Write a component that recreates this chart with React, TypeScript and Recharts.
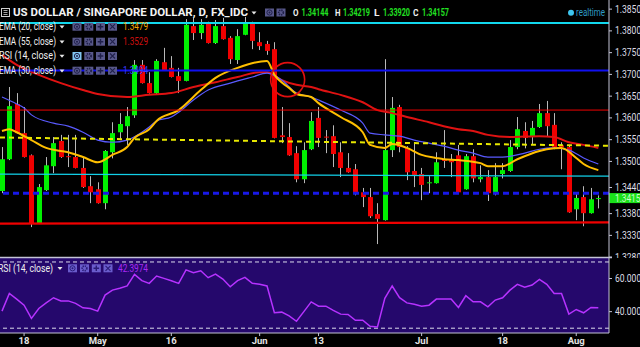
import React from 'react';
import { ComposedChart, Bar, Line, XAxis, YAxis, ReferenceLine, ReferenceDot } from 'recharts';

// USD/SGD daily, Apr 13 - Aug 4
const dates = [
  'Apr 13', 'Apr 14', 'Apr 15', 'Apr 18', 'Apr 19', 'Apr 20', 'Apr 21', 'Apr 22', 'Apr 25', 'Apr 26', 'Apr 27', 'Apr 28', 'Apr 29',
  'May 2', 'May 3', 'May 4', 'May 5', 'May 6', 'May 9', 'May 10', 'May 11', 'May 12', 'May 13', 'May 16', 'May 17', 'May 18',
  'May 19', 'May 20', 'May 23', 'May 24', 'May 25', 'May 26', 'May 27', 'May 30', 'May 31',
  'Jun 1', 'Jun 2', 'Jun 3', 'Jun 6', 'Jun 7', 'Jun 8', 'Jun 9', 'Jun 10', 'Jun 13', 'Jun 14', 'Jun 15', 'Jun 16', 'Jun 17',
  'Jun 20', 'Jun 21', 'Jun 22', 'Jun 23', 'Jun 24', 'Jun 27', 'Jun 28', 'Jun 29', 'Jun 30',
  'Jul 1', 'Jul 4', 'Jul 5', 'Jul 6', 'Jul 7', 'Jul 8', 'Jul 11', 'Jul 12', 'Jul 13', 'Jul 14', 'Jul 15', 'Jul 18', 'Jul 19',
  'Jul 20', 'Jul 21', 'Jul 22', 'Jul 25', 'Jul 26', 'Jul 27', 'Jul 28', 'Jul 29',
  'Aug 1', 'Aug 2', 'Aug 3', 'Aug 4',
];

const opens = [
  1.3432, 1.3505, 1.3632, 1.3565, 1.3514, 1.3358, 1.3434, 1.3489, 1.3547, 1.3512,
  1.3510, 1.3485, 1.3443, 1.3436, 1.3404, 1.3521, 1.3567, 1.3581, 1.3606, 1.3722,
  1.3680, 1.3657, 1.3728, 1.3715, 1.3696, 1.3685, 1.3811, 1.3795, 1.3816, 1.3772,
  1.3811, 1.3784, 1.3733, 1.3791, 1.3818, 1.3774, 1.3770, 1.3758, 1.3560, 1.3556,
  1.3519, 1.3459, 1.3528, 1.3600, 1.3557, 1.3558, 1.3521, 1.3485, 1.3482, 1.3429,
  1.3418, 1.3379, 1.3365, 1.3526, 1.3625, 1.3530, 1.3478, 1.3471, 1.3450, 1.3450,
  1.3505, 1.3503, 1.3514, 1.3436, 1.3512, 1.3459, 1.3464, 1.3427, 1.3471, 1.3478,
  1.3533, 1.3570, 1.3556, 1.3579, 1.3611, 1.3584, 1.3537, 1.3533, 1.3390, 1.3418,
  1.3381, 1.34144,
];
const highs = [
  1.3533, 1.3671, 1.3657, 1.3625, 1.3516, 1.3448, 1.3510, 1.3556, 1.3561, 1.3561,
  1.3561, 1.3510, 1.3466, 1.3452, 1.3526, 1.3590, 1.3611, 1.3625, 1.3733, 1.3733,
  1.3705, 1.3735, 1.3761, 1.3742, 1.3715, 1.3827, 1.3830, 1.3827, 1.3821, 1.3825,
  1.3830, 1.3788, 1.3804, 1.3832, 1.3821, 1.3797, 1.3777, 1.3774, 1.3625, 1.3588,
  1.3535, 1.3544, 1.3613, 1.3625, 1.3572, 1.3583, 1.3544, 1.3519, 1.3494, 1.3439,
  1.3439, 1.3404, 1.3735, 1.3648, 1.3630, 1.3535, 1.3544, 1.3485, 1.3466, 1.3521,
  1.3572, 1.3517, 1.3538, 1.3517, 1.3528, 1.3491, 1.3480, 1.3496, 1.3496, 1.3549,
  1.3602, 1.3590, 1.3593, 1.3632, 1.3639, 1.3611, 1.3544, 1.3538, 1.3427, 1.3443,
  1.3439, 1.34219,
];
const lows = [
  1.3427, 1.3503, 1.3564, 1.3509, 1.3349, 1.3356, 1.3432, 1.3473, 1.3508, 1.3487,
  1.3484, 1.3439, 1.3404, 1.3403, 1.3390, 1.3507, 1.3549, 1.3538, 1.3600, 1.3679,
  1.3656, 1.3655, 1.3709, 1.3693, 1.3657, 1.3684, 1.3779, 1.3781, 1.3771, 1.3770,
  1.3780, 1.3724, 1.3724, 1.3790, 1.3758, 1.3756, 1.3745, 1.3553, 1.3542, 1.3513,
  1.3452, 1.3450, 1.3526, 1.3533, 1.3519, 1.3487, 1.3464, 1.3474, 1.3422, 1.3395,
  1.3370, 1.3310, 1.3364, 1.3510, 1.3521, 1.3457, 1.3441, 1.3411, 1.3427, 1.3449,
  1.3485, 1.3464, 1.3428, 1.3435, 1.3452, 1.3452, 1.3409, 1.3422, 1.3461, 1.3476,
  1.3528, 1.3530, 1.3540, 1.3577, 1.3556, 1.3528, 1.3482, 1.3382, 1.3365, 1.3351,
  1.3380, 1.33920,
];
const closes = [
  1.3505, 1.3627, 1.3565, 1.3510, 1.3358, 1.3441, 1.3491, 1.3542, 1.3510, 1.3510,
  1.3485, 1.3441, 1.3429, 1.3404, 1.3524, 1.3565, 1.3586, 1.3604, 1.3722, 1.3680,
  1.3657, 1.3731, 1.3710, 1.3694, 1.3685, 1.3814, 1.3795, 1.3814, 1.3772, 1.3811,
  1.3781, 1.3735, 1.3788, 1.3818, 1.3777, 1.3765, 1.3754, 1.3554, 1.3556, 1.3514,
  1.3459, 1.3526, 1.3593, 1.3554, 1.3555, 1.3517, 1.3485, 1.3475, 1.3427, 1.3418,
  1.3374, 1.3368, 1.3526, 1.3623, 1.3533, 1.3475, 1.3469, 1.3446, 1.3452, 1.3498,
  1.3501, 1.3498, 1.3429, 1.3512, 1.3461, 1.3464, 1.3427, 1.3464, 1.3480, 1.3533,
  1.3574, 1.3554, 1.3577, 1.3611, 1.3581, 1.3533, 1.3533, 1.3383, 1.3416, 1.3381,
  1.3413, 1.34157,
];

// moving averages: [bar index, value]
const ema20: [number, number][] = [
  [0, 1.3570], [1, 1.3574], [2, 1.3567], [4, 1.3549], [6, 1.3531], [9, 1.3521], [11, 1.3510], [13, 1.3498],
  [15, 1.3515], [17, 1.3533], [18, 1.3554], [20, 1.3574], [21, 1.3593], [24, 1.3618], [27, 1.3664], [29, 1.3692],
  [32, 1.3715], [36, 1.3731], [37, 1.3699], [39, 1.3669], [40, 1.3655], [42, 1.3648], [43, 1.3634], [46, 1.3602],
  [49, 1.3567], [50, 1.3538], [52, 1.3531], [53, 1.3540], [55, 1.3531], [57, 1.3515], [59, 1.3508], [60, 1.3505],
  [62, 1.3503], [65, 1.3496], [66, 1.3489], [68, 1.3489], [70, 1.3505], [73, 1.3524], [74, 1.3528], [76, 1.3531],
  [78, 1.3508], [79, 1.3494], [81, 1.3480],
];
const ema55: [number, number][] = [
  [0, 1.3745], [2, 1.3722], [5, 1.3699], [8, 1.3680], [11, 1.3664], [13, 1.3655], [17, 1.3648], [20, 1.3653],
  [23, 1.3657], [26, 1.3671], [29, 1.3682], [32, 1.3694], [35, 1.3705], [36, 1.3705], [38, 1.3687], [40, 1.3676],
  [42, 1.3671], [43, 1.3666], [46, 1.3653], [49, 1.3636], [51, 1.3618], [53, 1.3611], [55, 1.3602], [58, 1.3590],
  [60, 1.3581], [62, 1.3574], [64, 1.3570], [66, 1.3561], [69, 1.3556], [73, 1.3558], [75, 1.3556], [77, 1.3544],
  [79, 1.3538], [81, 1.3531],
];
const ema30: [number, number][] = [
  [0, 1.3648], [2, 1.3632], [3, 1.3623], [4, 1.3607], [7, 1.3588], [9, 1.3581], [11, 1.3567], [13, 1.3549],
  [15, 1.3544], [17, 1.3549], [19, 1.3567], [20, 1.3579], [21, 1.3593], [23, 1.3602], [24, 1.3613], [26, 1.3641],
  [28, 1.3664], [31, 1.3680], [34, 1.3694], [36, 1.3703], [38, 1.3687], [40, 1.3657], [42, 1.3648], [43, 1.3641],
  [46, 1.3618], [49, 1.3588], [50, 1.3565], [52, 1.3561], [54, 1.3558], [56, 1.3549], [58, 1.3542], [60, 1.3535],
  [62, 1.3526], [64, 1.3519], [66, 1.3510], [68, 1.3510], [71, 1.3519], [73, 1.3528], [75, 1.3531], [77, 1.3526],
  [79, 1.3508], [81, 1.3494],
];

const rsi = [
  40.3, 51, 47.6, 43.9, 35.9, 41.9, 45.3, 48.4, 46.5, 46.5,
  45, 42.3, 41.9, 40.3, 50, 53, 54.1, 55.5, 62.5, 58.7,
  57.1, 61.5, 60.1, 58.7, 57.1, 65.2, 63.5, 64.7, 60.5, 62.7,
  59.7, 55, 58.7, 60.7, 57.1, 56.5, 55.5, 39.3, 39.7, 37.5,
  34.2, 40, 45.9, 43.3, 43.3, 40.8, 38.5, 38.3, 34.8, 34.8,
  31.2, 30.8, 48, 55.5, 48.4, 45.3, 44.5, 43.3, 43.9, 47.6,
  47.6, 47.6, 42.5, 49.6, 45.9, 45.9, 42.9, 47, 48.4, 53,
  56.5, 54.7, 56.1, 59.5, 56.5, 51, 51, 38.5, 41.3, 39.3,
  42.5, 42.4,
];

const priceTicks = [1.385, 1.38, 1.375, 1.37, 1.365, 1.36, 1.355, 1.35, 1.344, 1.338, 1.333, 1.328];
const rsiTicks = [40, 60];
const axisDates = ['Apr 18', 'May 2', 'May 16', 'Jun 1', 'Jun 13', 'Jul 1', 'Jul 18', 'Aug 1'];
const axisLabels = ['18', 'May', '16', 'Jun', '13', 'Jul', '18', 'Aug'];

// legend readouts as printed on the chart
const ema20Last = '1.3479';
const ema55Last = '1.3529';
const ema30Last = '1.3494';
const rsiLast = '42.3974';

// drawn levels
const cyanTop = 1.3818;
const blueLevel = 1.3709;
const redUpper = 1.3618;
const yellowTrend = [1.3555, 1.3536];
const cyanTrend = [1.3471, 1.3466];
const blueDashed = 1.3427;
const redTrend = [1.3357, 1.3360];
const circleMark = { i: 38.8, price: 1.3688 };

const X_DOMAIN: [number, number] = [-0.27, 82.45];
const FONT = 'Roboto, "DejaVu Sans", sans-serif';

const toMap = (pts: [number, number][]) => new Map(pts.map(([i, v]) => [i, v]));
const m20 = toMap(ema20);
const m55 = toMap(ema55);
const m30 = toMap(ema30);

const rows = dates.map((d, i) => ({
  i,
  date: d,
  open: opens[i],
  high: highs[i],
  low: lows[i],
  close: closes[i],
  hl: [lows[i], highs[i]],
  ema20: m20.has(i) ? m20.get(i) : null,
  ema55: m55.has(i) ? m55.get(i) : null,
  ema30: m30.has(i) ? m30.get(i) : null,
  rsi: rsi[i],
}));

const tickIndex = axisDates.map((d) => dates.indexOf(d));
const lastIdx = dates.length - 1;

const Candle = (props: any) => {
  const { x, y, width, height, payload } = props;
  if (x == null || y == null) return null;
  const top = Math.min(y, y + height);
  const h = Math.abs(height);
  const span = payload.high - payload.low || 1e-9;
  const py = (v: number) => top + ((payload.high - v) / span) * h;
  const up = payload.close >= payload.open;
  const bTop = py(Math.max(payload.open, payload.close));
  const bBot = py(Math.min(payload.open, payload.close));
  const cx = Math.round(x + width / 2) + 0.5;
  return (
    <g>
      <line x1={cx} x2={cx} y1={top} y2={top + h} stroke="#b8b8b8" strokeWidth={1} />
      <rect x={cx - 2.5} y={bTop} width={5} height={Math.max(1, bBot - bTop)} fill={up ? '#00f000' : '#f00000'} />
    </g>
  );
};

const PriceTick = (props: any) => {
  const { x, y, payload } = props;
  return (
    <text x={x} y={y} dy={3.5} fill="#dcdce4" fontSize={10} fontFamily={FONT}
      textLength={31} lengthAdjust="spacingAndGlyphs">
      {Number(payload.value).toFixed(5)}
    </text>
  );
};

const RsiTick = (props: any) => {
  const { x, y, payload } = props;
  return (
    <text x={x} y={y} dy={3.5} fill="#dcdce4" fontSize={10} fontFamily={FONT}
      textLength={31} lengthAdjust="spacingAndGlyphs">
      {Number(payload.value).toFixed(4)}
    </text>
  );
};

const DateTick = (props: any) => {
  const { x, y, payload } = props;
  const k = tickIndex.indexOf(payload.value);
  return (
    <text x={x} y={y} dy={6.5} fill="#e4e4e4" fontSize={9.5} fontWeight={700} fontFamily={FONT} textAnchor="middle">
      {k >= 0 ? axisLabels[k] : ''}
    </text>
  );
};

const PriceTag = (props: any) => {
  const vb = props.viewBox || {};
  const x = vb.x + vb.width;
  const y = vb.y;
  return (
    <g>
      <rect x={x} y={y - 5} width={32} height={10} fill="#1ae01a" />
      <text x={x + 6} y={y + 3.5} fontSize={10} fill="#c8ffc8" fontFamily={FONT}
        textLength={30} lengthAdjust="spacingAndGlyphs">
        {closes[lastIdx].toFixed(5)}
      </text>
    </g>
  );
};

function IconBox({ x, y, kind, bg, fg }: { x: number; y: number; kind: string; bg: string; fg: string }) {
  const cx = x + 4.5;
  const cy = y + 4;
  return (
    <g>
      <rect x={x} y={y} width={9} height={8} fill={bg} />
      {kind === 'eye' && (
        <>
          <circle cx={cx} cy={cy} r={2.6} fill="none" stroke={fg} strokeWidth={1} />
          <circle cx={cx} cy={cy} r={1} fill={fg} />
        </>
      )}
      {kind === 'gear' && (
        <circle cx={cx} cy={cy} r={2.3} fill="none" stroke={fg} strokeWidth={1.7} strokeDasharray="1.2 0.8" />
      )}
      {kind === 'plus' && (
        <path d={`M${cx - 2.8} ${cy}H${cx + 2.8}M${cx} ${cy - 2.8}V${cy + 2.8}`} stroke={fg} strokeWidth={1.4} />
      )}
      {kind === 'close' && (
        <path d={`M${cx - 2.5} ${cy - 2.5}L${cx + 2.5} ${cy + 2.5}M${cx + 2.5} ${cy - 2.5}L${cx - 2.5} ${cy + 2.5}`}
          stroke={fg} strokeWidth={1.1} />
      )}
    </g>
  );
}

const legendRows = [
  { label: 'EMA (20, close)', value: ema20Last, color: '#f5a300', cy: 26.7 },
  { label: 'EMA (55, close)', value: ema55Last, color: '#d00f0f', cy: 41.7 },
  { label: 'RSI (14, close)', value: '', color: '', cy: 56, active: true },
  { label: 'EMA (30, close)', value: ema30Last, color: '#3c3cff', cy: 70.7 },
];

const Caret = ({ x, y }: { x: number; y: number }) => (
  <polygon points={`${x},${y} ${x + 5},${y} ${x + 2.5},${y + 3}`} fill="#e8e8e8" />
);

function Overlay() {
  const boxBg = '#58588a';
  const boxFg = '#20204a';
  const ohlc = [
    ['O', opens[lastIdx], 293, 301.5],
    ['H', highs[lastIdx], 335, 343],
    ['L', lows[lastIdx], 374, 383],
    ['C', closes[lastIdx], 413, 422],
  ] as [string, number, number, number][];
  return (
    <svg width={640} height={347} style={{ position: 'absolute', left: 0, top: 0, pointerEvents: 'none' }}
      fontFamily={FONT}>
      {/* pane separator */}
      <line x1={0} x2={612} y1={257.5} y2={257.5} stroke="#c4c4d6" strokeWidth={1.5} />

      {/* title row */}
      <rect x={1.5} y={8.5} width={8} height={8} fill="none" stroke="#d0d0d0" strokeWidth={1} />
      <path d="M3.5 10.5H7.5M3.5 12.5H7.5M3.5 14.5H7.5" stroke="#d0d0d0" strokeWidth={0.8} />
      <text x={13} y={16.3} fontSize={11} fontWeight={700} fill="#f4f4f4" textLength={235} lengthAdjust="spacingAndGlyphs">
        US DOLLAR / SINGAPORE DOLLAR, D, FX_IDC
      </text>
      <Caret x={251.5} y={11.5} />
      <IconBox x={265} y={8.5} kind="eye" bg={boxBg} fg={boxFg} />
      <IconBox x={276.5} y={8.5} kind="gear" bg={boxBg} fg={boxFg} />
      {ohlc.map(([k, v, lx, vx]) => (
        <g key={k}>
          <text x={lx} y={16.3} fontSize={9.5} fontWeight={700} fill="#f0f0f0" textLength={5.5} lengthAdjust="spacingAndGlyphs">
            {k}
          </text>
          <text x={vx} y={16.3} fontSize={10} fontWeight={700} fill="#22e022" textLength={27} lengthAdjust="spacingAndGlyphs">
            {v.toFixed(5)}
          </text>
        </g>
      ))}
      <circle cx={571} cy={12.7} r={3} fill="#3ec6f0" />
      <text x={576} y={16} fontSize={10} fill="#2f9cc6" textLength={29} lengthAdjust="spacingAndGlyphs">realtime</text>

      {/* indicator legend */}
      {legendRows.map((r) => (
        <g key={r.label}>
          <text x={-1} y={r.cy + 3.4} fontSize={10.5} fill="#f0f0f0" textLength={57} lengthAdjust="spacingAndGlyphs">
            {r.label}
          </text>
          <Caret x={59.5} y={r.cy - 1.3} />
          <IconBox x={72.5} y={r.cy - 4} kind="eye" bg={r.active ? '#80c4ee' : boxBg} fg={boxFg} />
          <IconBox x={84.3} y={r.cy - 4} kind="gear" bg={boxBg} fg={boxFg} />
          <IconBox x={96} y={r.cy - 4} kind="plus" bg={boxBg} fg={boxFg} />
          <IconBox x={108} y={r.cy - 4} kind="close" bg={boxBg} fg={boxFg} />
          {r.value && (
            <text x={123} y={r.cy + 3.4} fontSize={10} fill={r.color} textLength={25} lengthAdjust="spacingAndGlyphs">
              {r.value}
            </text>
          )}
        </g>
      ))}

      {/* RSI legend */}
      <text x={-2} y={271.7} fontSize={10.5} fill="#f0f0f0" textLength={55} lengthAdjust="spacingAndGlyphs">
        RSI (14, close)
      </text>
      <Caret x={57.5} y={267} />
      <IconBox x={68} y={264.3} kind="eye" bg="#6a5ccc" fg="#2a1c78" />
      <IconBox x={80} y={264.3} kind="gear" bg="#6a5ccc" fg="#2a1c78" />
      <IconBox x={91.8} y={264.3} kind="plus" bg="#6a5ccc" fg="#2a1c78" />
      <IconBox x={103.5} y={264.3} kind="close" bg="#6a5ccc" fg="#2a1c78" />
      <text x={118} y={271.7} fontSize={10} fill="#a828f5" textLength={30} lengthAdjust="spacingAndGlyphs">
        {rsiLast}
      </text>
    </svg>
  );
}

export default function App() {
  return (
    <div style={{ position: 'absolute', left: 0, top: 0, width: 640, height: 347, background: '#000', overflow: 'hidden', fontFamily: FONT }}>
      <div style={{ position: 'absolute', left: 0, top: 0 }}>
        <ComposedChart width={640} height={258} data={rows} margin={{ top: 0, right: 0, bottom: 0, left: 0 }}>
          <XAxis type="number" dataKey="i" domain={X_DOMAIN} allowDataOverflow hide />
          <YAxis
            orientation="right"
            width={31}
            domain={[1.3278, 1.3871]}
            allowDataOverflow
            ticks={priceTicks}
            interval={0}
            tick={<PriceTick />}
            tickSize={3}
            tickMargin={3}
            axisLine={{ stroke: '#c4c4d6' }}
            tickLine={{ stroke: '#c4c4d6' }}
          />
          <Bar dataKey="hl" barSize={5} shape={<Candle />} activeBar={false} isAnimationActive={false} />
          <Line dataKey="ema55" type="monotone" stroke="#e01212" strokeWidth={2} dot={false} activeDot={false} connectNulls isAnimationActive={false} />
          <Line dataKey="ema30" type="monotone" stroke="#5a5aff" strokeWidth={1.2} dot={false} activeDot={false} connectNulls isAnimationActive={false} />
          <Line dataKey="ema20" type="monotone" stroke="#ffbf00" strokeWidth={2} dot={false} activeDot={false} connectNulls isAnimationActive={false} />
          <ReferenceLine y={cyanTop} stroke="#12d8ee" strokeWidth={2} />
          <ReferenceLine y={blueLevel} stroke="#1010f0" strokeWidth={2.2} />
          <ReferenceLine y={redUpper} stroke="#f00000" strokeWidth={1} />
          <ReferenceLine
            segment={[{ x: X_DOMAIN[0], y: yellowTrend[0] }, { x: X_DOMAIN[1], y: yellowTrend[1] }]}
            stroke="#e8e800" strokeWidth={2} strokeDasharray="5 4" ifOverflow="hidden"
          />
          <ReferenceLine
            segment={[{ x: X_DOMAIN[0], y: cyanTrend[0] }, { x: X_DOMAIN[1], y: cyanTrend[1] }]}
            stroke="#12d0e8" strokeWidth={1.2} ifOverflow="hidden"
          />
          <ReferenceLine y={blueDashed} stroke="#1818e8" strokeWidth={3} strokeDasharray="6 4" />
          <ReferenceLine
            segment={[{ x: X_DOMAIN[0], y: redTrend[0] }, { x: X_DOMAIN[1], y: redTrend[1] }]}
            stroke="#f00000" strokeWidth={2.2} ifOverflow="hidden"
          />
          <ReferenceDot x={circleMark.i} y={circleMark.price} r={17} fill="none" stroke="#e01010" strokeWidth={1.6} />
          <ReferenceLine y={closes[lastIdx]} stroke="none" label={(p: any) => <PriceTag {...p} />} />
        </ComposedChart>
      </div>

      <div style={{ position: 'absolute', left: 0, top: 258, width: 609, height: 75, background: '#25086c' }} />
      <div style={{ position: 'absolute', left: 0, top: 258 }}>
        <ComposedChart width={640} height={89} data={rows} margin={{ top: 0, right: 0, bottom: 0, left: 0 }}>
          <XAxis
            type="number"
            dataKey="i"
            domain={X_DOMAIN}
            allowDataOverflow
            ticks={tickIndex}
            interval={0}
            height={14}
            tickSize={3}
            tickMargin={1}
            tick={<DateTick />}
            axisLine={{ stroke: '#c4c4d6' }}
            tickLine={{ stroke: '#c4c4d6' }}
          />
          <YAxis
            orientation="right"
            width={31}
            domain={[27.1, 72.4]}
            allowDataOverflow
            ticks={rsiTicks}
            interval={0}
            tick={<RsiTick />}
            tickSize={3}
            tickMargin={3}
            axisLine={{ stroke: '#c4c4d6' }}
            tickLine={{ stroke: '#c4c4d6' }}
          />
          <ReferenceLine y={70} stroke="#dcdcec" strokeDasharray="4 3" />
          <ReferenceLine y={30} stroke="#dcdcec" strokeDasharray="4 3" />
          <Line dataKey="rsi" type="linear" stroke="#b632ff" strokeWidth={1.5} dot={false} activeDot={false} isAnimationActive={false} />
        </ComposedChart>
      </div>

      <Overlay />
    </div>
  );
}
